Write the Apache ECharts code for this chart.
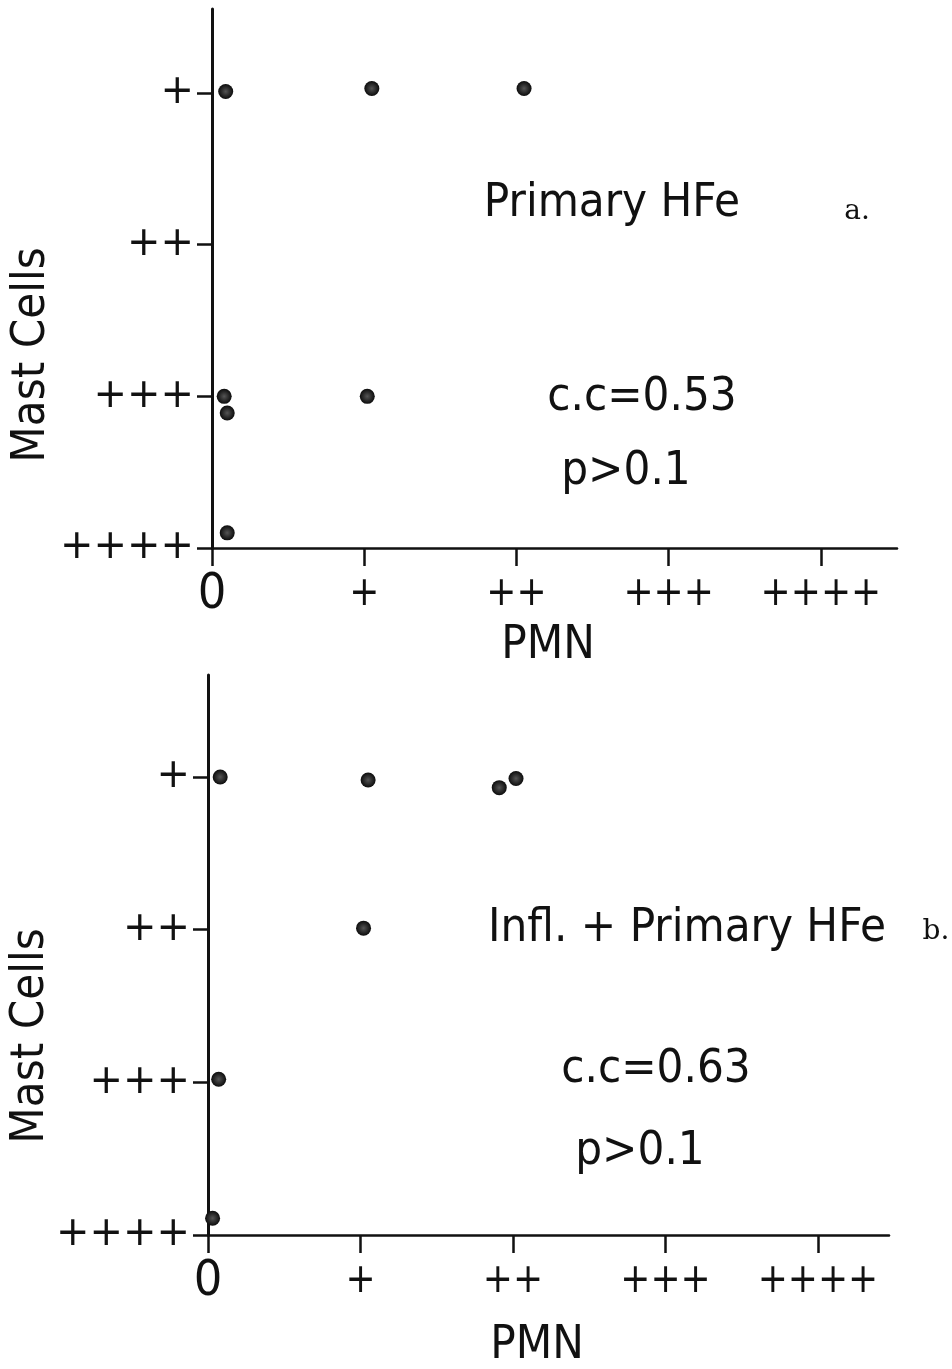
<!DOCTYPE html>
<html><head><meta charset="utf-8">
<script src="https://cdn.jsdelivr.net/npm/echarts@6/dist/echarts.min.js"></script>
<style>html,body{margin:0;padding:0;background:#fff}#c{width:952px;height:1369px}</style>
</head><body><div id="c"></div>
<script>
// ---- data ----
const xTickLabels = ['0', '+', '++', '+++', '++++'];   // PMN grade 0..4
const yTickLabels = ['+', '++', '+++', '++++'];        // Mast cell grade 1..4
const xTickValues = [0, 1, 2, 3, 4];
const yTickValues = [1, 2, 3, 4];
const panelA_pmn  = [0.09, 1.05, 2.05, 0.08, 0.10, 1.02, 0.10];
const panelA_mast = [0.99, 0.97, 0.97, 3.00, 3.11, 3.00, 3.90];
const panelB_pmn  = [0.08, 1.05, 1.91, 2.02, 1.02, 0.07, 0.03];
const panelB_mast = [1.00, 1.02, 1.07, 1.01, 1.99, 2.98, 3.89];
const panelTitles = ['Primary HFe', 'Infl. + Primary HFe'];
const panelCC = ['c.c=0.53', 'c.c=0.63'];
const panelP = ['p>0.1', 'p>0.1'];
const panelLetters = ['a.', 'b.'];
const xAxisName = 'PMN';
const yAxisName = 'Mast Cells';

// ---- chart ----
const SANS = '"DejaVu Sans Condensed","DejaVu Sans",sans-serif';
const zip = (a, b) => a.map((v, i) => [v, b[i]]);
const dotColor = {
  type: 'radial', x: 0.5, y: 0.5, r: 0.5,
  colorStops: [{offset: 0, color: '#555'}, {offset: 0.55, color: '#2c2c2c'}, {offset: 1, color: '#0c0c0c'}]
};

function xAxisCfg(gi, max) {
  return {
    type: 'value', gridIndex: gi, min: 0, max: max,
    axisLine: {show: true, onZero: false, lineStyle: {color: '#111', width: 2.5}},
    axisTick: {show: true, customValues: xTickValues, length: 18, lineStyle: {color: '#111', width: 2.5}},
    axisLabel: {
      show: true, customValues: xTickValues, margin: 47, verticalAlign: 'middle',
      color: '#111', fontFamily: SANS, fontSize: 40,
      formatter: v => v === 0 ? '{z|0}' : (xTickLabels[Math.round(v)] || ''),
      rich: {z: {fontFamily: SANS, fontSize: 50, color: '#111'}}
    },
    splitLine: {show: false}
  };
}
function yAxisCfg(gi, min) {
  return {
    type: 'value', gridIndex: gi, inverse: true, min: min, max: 4,
    axisLine: {show: true, onZero: false, lineStyle: {color: '#111', width: 3}},
    axisTick: {show: true, customValues: yTickValues, length: 15, lineStyle: {color: '#111', width: 2.5}},
    axisLabel: {
      show: true, customValues: yTickValues, margin: 18,
      color: '#111', fontFamily: '"DejaVu Sans",sans-serif', fontSize: 40,
      formatter: v => yTickLabels[Math.round(v) - 1] || ''
    },
    splitLine: {show: false}
  };
}
function txt(x, y, s, size, family, rot) {
  return {
    type: 'text', x: x, y: y, silent: true, rotation: rot || 0,
    style: {text: s, fontFamily: family || SANS, fontSize: size, fill: '#111', textAlign: 'center', textVerticalAlign: 'middle'}
  };
}
const SERIF = '"DejaVu Serif",serif';

const option = {
  backgroundColor: '#fff',
  animation: false,
  grid: [
    {left: 212, top: 9, width: 685, height: 539},
    {left: 208, top: 675, width: 681, height: 560}
  ],
  xAxis: [xAxisCfg(0, 4.5), xAxisCfg(1, 4.466)],
  yAxis: [yAxisCfg(0, 0.446), yAxisCfg(1, 0.332)],
  series: [
    {type: 'scatter', xAxisIndex: 0, yAxisIndex: 0, data: zip(panelA_pmn, panelA_mast),
     symbolSize: 15, itemStyle: {color: dotColor, opacity: 1}},
    {type: 'scatter', xAxisIndex: 1, yAxisIndex: 1, data: zip(panelB_pmn, panelB_mast),
     symbolSize: 15, itemStyle: {color: dotColor, opacity: 1}}
  ],
  graphic: [
    txt(612, 204, panelTitles[0], 47),
    txt(857, 212, panelLetters[0], 28, SERIF),
    txt(642, 398, panelCC[0], 47),
    txt(626, 472, panelP[0], 47),
    txt(548, 646, xAxisName, 47),
    txt(32, 355, yAxisName, 47, SANS, Math.PI / 2),
    txt(687, 929, panelTitles[1], 47),
    txt(936, 932, panelLetters[1], 28, SERIF),
    txt(656, 1070, panelCC[1], 47),
    txt(640, 1152, panelP[1], 47),
    txt(537, 1346, xAxisName, 47),
    txt(31, 1036, yAxisName, 47, SANS, Math.PI / 2)
  ]
};
const chart = echarts.init(document.getElementById('c'), null, {renderer: 'canvas'});
chart.setOption(option);
</script>
</body></html>
